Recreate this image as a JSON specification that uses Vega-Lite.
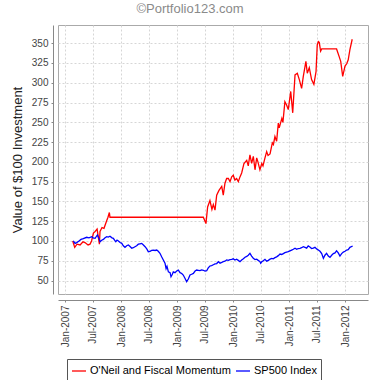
{
  "$schema": "https://vega.github.io/schema/vega-lite/v6.json",
  "width": 310,
  "height": 269,
  "autosize": {"type": "none"},
  "padding": {"left": 58, "top": 25, "right": 12, "bottom": 86},
  "background": "white",
  "title": {"text": "©Portfolio123.com", "anchor": "middle", "dx": -23, "offset": 9, "fontSize": 13, "font": "Liberation Sans", "fontWeight": "normal", "color": "#8a8a8a"},
  "config": {"view": {"stroke": "#aaaaaa", "strokeWidth": 1}, "font": "Liberation Sans"},
  "datasets": {
    "oneil": [
      {"date": "2007-02-20", "value": 100}, {"date": "2007-03-05", "value": 92}, {"date": "2007-03-20", "value": 96},
      {"date": "2007-04-09", "value": 95}, {"date": "2007-04-28", "value": 99}, {"date": "2007-05-11", "value": 98},
      {"date": "2007-05-31", "value": 95}, {"date": "2007-06-13", "value": 96}, {"date": "2007-06-23", "value": 100},
      {"date": "2007-07-05", "value": 110}, {"date": "2007-07-16", "value": 112}, {"date": "2007-07-29", "value": 115},
      {"date": "2007-08-13", "value": 96}, {"date": "2007-08-17", "value": 112}, {"date": "2007-08-30", "value": 117},
      {"date": "2007-09-12", "value": 116}, {"date": "2007-09-30", "value": 126}, {"date": "2007-10-08", "value": 130},
      {"date": "2007-10-17", "value": 136}, {"date": "2007-10-21", "value": 130}, {"date": "2009-06-21", "value": 130},
      {"date": "2009-07-08", "value": 122}, {"date": "2009-07-19", "value": 143}, {"date": "2009-08-03", "value": 151},
      {"date": "2009-08-16", "value": 140}, {"date": "2009-08-25", "value": 146}, {"date": "2009-09-05", "value": 139},
      {"date": "2009-09-16", "value": 158}, {"date": "2009-10-01", "value": 164}, {"date": "2009-10-19", "value": 169},
      {"date": "2009-10-29", "value": 158}, {"date": "2009-11-09", "value": 173}, {"date": "2009-11-20", "value": 179},
      {"date": "2009-12-01", "value": 179}, {"date": "2009-12-12", "value": 175}, {"date": "2009-12-23", "value": 181},
      {"date": "2010-01-02", "value": 183}, {"date": "2010-01-13", "value": 177}, {"date": "2010-01-24", "value": 179},
      {"date": "2010-02-04", "value": 175}, {"date": "2010-02-15", "value": 181}, {"date": "2010-02-26", "value": 186},
      {"date": "2010-03-13", "value": 198}, {"date": "2010-03-31", "value": 202}, {"date": "2010-04-10", "value": 195},
      {"date": "2010-04-21", "value": 209}, {"date": "2010-05-02", "value": 198}, {"date": "2010-05-13", "value": 207},
      {"date": "2010-05-24", "value": 190}, {"date": "2010-06-04", "value": 205}, {"date": "2010-06-12", "value": 200},
      {"date": "2010-06-25", "value": 190}, {"date": "2010-07-07", "value": 198}, {"date": "2010-07-15", "value": 195},
      {"date": "2010-07-28", "value": 205}, {"date": "2010-08-08", "value": 213}, {"date": "2010-08-17", "value": 208},
      {"date": "2010-08-30", "value": 210}, {"date": "2010-09-14", "value": 224}, {"date": "2010-09-21", "value": 222},
      {"date": "2010-10-01", "value": 232}, {"date": "2010-10-12", "value": 226}, {"date": "2010-10-23", "value": 249},
      {"date": "2010-10-29", "value": 243}, {"date": "2010-11-15", "value": 255}, {"date": "2010-11-22", "value": 250},
      {"date": "2010-12-05", "value": 276}, {"date": "2010-12-16", "value": 272}, {"date": "2010-12-27", "value": 266},
      {"date": "2011-01-12", "value": 289}, {"date": "2011-01-25", "value": 262}, {"date": "2011-02-09", "value": 310},
      {"date": "2011-02-24", "value": 312}, {"date": "2011-03-09", "value": 304}, {"date": "2011-03-24", "value": 293},
      {"date": "2011-04-04", "value": 308}, {"date": "2011-04-21", "value": 327}, {"date": "2011-04-30", "value": 312},
      {"date": "2011-05-13", "value": 319}, {"date": "2011-05-28", "value": 304}, {"date": "2011-06-12", "value": 298},
      {"date": "2011-06-26", "value": 314}, {"date": "2011-07-04", "value": 348}, {"date": "2011-07-11", "value": 352},
      {"date": "2011-07-17", "value": 351}, {"date": "2011-07-26", "value": 340}, {"date": "2011-08-02", "value": 342.7},
      {"date": "2011-11-07", "value": 342.7}, {"date": "2011-11-24", "value": 333}, {"date": "2011-12-04", "value": 327},
      {"date": "2011-12-17", "value": 308}, {"date": "2012-01-01", "value": 321}, {"date": "2012-01-12", "value": 324},
      {"date": "2012-01-22", "value": 329}, {"date": "2012-02-02", "value": 342}, {"date": "2012-02-17", "value": 355}
    ],
    "sp500": [
      {"date": "2007-02-24", "value": 100}, {"date": "2007-03-07", "value": 97}, {"date": "2007-03-18", "value": 98},
      {"date": "2007-04-02", "value": 100}, {"date": "2007-04-15", "value": 102}, {"date": "2007-04-30", "value": 103},
      {"date": "2007-05-22", "value": 104.7}, {"date": "2007-06-06", "value": 104}, {"date": "2007-06-24", "value": 105.4},
      {"date": "2007-07-03", "value": 104}, {"date": "2007-07-16", "value": 103.4}, {"date": "2007-07-31", "value": 107.6},
      {"date": "2007-08-11", "value": 103}, {"date": "2007-08-17", "value": 99}, {"date": "2007-08-28", "value": 101},
      {"date": "2007-09-08", "value": 102}, {"date": "2007-09-19", "value": 104}, {"date": "2007-09-30", "value": 105.4},
      {"date": "2007-10-10", "value": 105}, {"date": "2007-10-21", "value": 106}, {"date": "2007-11-03", "value": 104},
      {"date": "2007-11-12", "value": 103.4}, {"date": "2007-11-20", "value": 101}, {"date": "2007-11-28", "value": 99},
      {"date": "2007-12-06", "value": 101}, {"date": "2007-12-15", "value": 100}, {"date": "2007-12-26", "value": 98},
      {"date": "2008-01-06", "value": 97}, {"date": "2008-01-16", "value": 94}, {"date": "2008-01-27", "value": 92},
      {"date": "2008-02-07", "value": 94}, {"date": "2008-02-18", "value": 95}, {"date": "2008-02-29", "value": 93},
      {"date": "2008-03-11", "value": 90.8}, {"date": "2008-03-21", "value": 91.5}, {"date": "2008-04-01", "value": 92.8},
      {"date": "2008-04-12", "value": 94}, {"date": "2008-04-23", "value": 96}, {"date": "2008-05-04", "value": 96.5},
      {"date": "2008-05-15", "value": 97}, {"date": "2008-05-26", "value": 95}, {"date": "2008-06-06", "value": 92.8},
      {"date": "2008-06-17", "value": 90}, {"date": "2008-06-27", "value": 86.5}, {"date": "2008-07-08", "value": 87},
      {"date": "2008-07-19", "value": 88}, {"date": "2008-07-30", "value": 88.5}, {"date": "2008-08-10", "value": 88},
      {"date": "2008-08-21", "value": 88.6}, {"date": "2008-08-31", "value": 87}, {"date": "2008-09-11", "value": 84.4},
      {"date": "2008-09-22", "value": 80}, {"date": "2008-10-03", "value": 76}, {"date": "2008-10-14", "value": 72},
      {"date": "2008-10-21", "value": 65}, {"date": "2008-10-27", "value": 68}, {"date": "2008-11-05", "value": 61},
      {"date": "2008-11-16", "value": 60}, {"date": "2008-11-22", "value": 54.8}, {"date": "2008-12-01", "value": 58},
      {"date": "2008-12-07", "value": 61}, {"date": "2008-12-18", "value": 60}, {"date": "2008-12-29", "value": 62},
      {"date": "2009-01-09", "value": 63.3}, {"date": "2009-01-20", "value": 60}, {"date": "2009-01-31", "value": 59},
      {"date": "2009-02-10", "value": 57}, {"date": "2009-02-21", "value": 53}, {"date": "2009-03-04", "value": 48.5},
      {"date": "2009-03-15", "value": 52}, {"date": "2009-03-26", "value": 57}, {"date": "2009-04-06", "value": 58},
      {"date": "2009-04-17", "value": 59}, {"date": "2009-04-28", "value": 62}, {"date": "2009-05-09", "value": 63.3},
      {"date": "2009-05-19", "value": 63}, {"date": "2009-05-30", "value": 62.5}, {"date": "2009-06-10", "value": 63.5},
      {"date": "2009-06-21", "value": 63}, {"date": "2009-07-02", "value": 62}, {"date": "2009-07-13", "value": 62.4},
      {"date": "2009-07-23", "value": 66}, {"date": "2009-08-03", "value": 68.4}, {"date": "2009-08-14", "value": 69},
      {"date": "2009-08-25", "value": 70}, {"date": "2009-09-05", "value": 71}, {"date": "2009-09-16", "value": 71.5},
      {"date": "2009-09-27", "value": 73.8}, {"date": "2009-10-08", "value": 72}, {"date": "2009-10-19", "value": 73},
      {"date": "2009-10-29", "value": 74}, {"date": "2009-11-09", "value": 74.5}, {"date": "2009-11-20", "value": 76},
      {"date": "2009-12-01", "value": 75.5}, {"date": "2009-12-12", "value": 76.5}, {"date": "2009-12-23", "value": 76.8},
      {"date": "2010-01-02", "value": 77.5}, {"date": "2010-01-13", "value": 76}, {"date": "2010-01-24", "value": 77},
      {"date": "2010-02-04", "value": 75.5}, {"date": "2010-02-15", "value": 73.8}, {"date": "2010-02-26", "value": 76},
      {"date": "2010-03-09", "value": 77.5}, {"date": "2010-03-20", "value": 79.4}, {"date": "2010-03-31", "value": 80.5},
      {"date": "2010-04-10", "value": 82}, {"date": "2010-04-21", "value": 84.4}, {"date": "2010-05-02", "value": 81},
      {"date": "2010-05-13", "value": 78}, {"date": "2010-05-24", "value": 76.5}, {"date": "2010-06-04", "value": 77},
      {"date": "2010-06-14", "value": 75.5}, {"date": "2010-06-25", "value": 74}, {"date": "2010-06-30", "value": 71.8},
      {"date": "2010-07-08", "value": 74}, {"date": "2010-07-17", "value": 75}, {"date": "2010-07-28", "value": 76.8},
      {"date": "2010-08-08", "value": 74.5}, {"date": "2010-08-19", "value": 75.5}, {"date": "2010-08-30", "value": 77},
      {"date": "2010-09-10", "value": 78}, {"date": "2010-09-20", "value": 77.5}, {"date": "2010-10-01", "value": 79},
      {"date": "2010-10-12", "value": 80}, {"date": "2010-10-23", "value": 81.5}, {"date": "2010-11-03", "value": 83.5},
      {"date": "2010-11-14", "value": 83}, {"date": "2010-11-25", "value": 84}, {"date": "2010-12-05", "value": 85.2},
      {"date": "2010-12-16", "value": 86}, {"date": "2010-12-27", "value": 86.5}, {"date": "2011-01-07", "value": 87.5},
      {"date": "2011-01-18", "value": 88.5}, {"date": "2011-01-29", "value": 89.5}, {"date": "2011-02-09", "value": 90.8},
      {"date": "2011-02-20", "value": 89.5}, {"date": "2011-03-02", "value": 90.5}, {"date": "2011-03-13", "value": 90.8},
      {"date": "2011-03-24", "value": 91.5}, {"date": "2011-04-04", "value": 92.8}, {"date": "2011-04-15", "value": 92},
      {"date": "2011-04-26", "value": 91}, {"date": "2011-05-06", "value": 93.7}, {"date": "2011-05-17", "value": 92.5},
      {"date": "2011-05-28", "value": 90.5}, {"date": "2011-06-08", "value": 91}, {"date": "2011-06-19", "value": 92},
      {"date": "2011-06-30", "value": 90}, {"date": "2011-07-11", "value": 88.6}, {"date": "2011-07-22", "value": 87},
      {"date": "2011-08-02", "value": 84}, {"date": "2011-08-13", "value": 78}, {"date": "2011-08-23", "value": 82},
      {"date": "2011-09-03", "value": 84.4}, {"date": "2011-09-14", "value": 81}, {"date": "2011-09-25", "value": 79.4},
      {"date": "2011-10-06", "value": 82}, {"date": "2011-10-17", "value": 84}, {"date": "2011-10-28", "value": 85},
      {"date": "2011-11-07", "value": 87.7}, {"date": "2011-11-18", "value": 85}, {"date": "2011-11-29", "value": 81},
      {"date": "2011-12-10", "value": 84}, {"date": "2011-12-21", "value": 86}, {"date": "2012-01-01", "value": 87},
      {"date": "2012-01-12", "value": 88.6}, {"date": "2012-01-22", "value": 89}, {"date": "2012-02-02", "value": 92},
      {"date": "2012-02-20", "value": 93.7}
    ]
  },
  "encoding": {
    "x": {
      "field": "date", "type": "temporal",
      "scale": {"domain": [{"year": 2006, "month": 11, "date": 16}, {"year": 2012, "month": 5, "date": 30}]},
      "axis": {"title": null, "format": "%b-%Y", "labelAngle": -90, "tickCount": {"interval": "month", "step": 6},
        "offset": 6, "domainColor": "#888888", "tickColor": "#888888", "tickSize": 2, "labelFontSize": 10,
        "labelColor": "#444444", "gridDash": [2, 2], "gridColor": "#d6d6d6", "labelPadding": 3,
        "labelFlush": false, "labelOverlap": false}
    },
    "y": {
      "field": "value", "type": "quantitative",
      "scale": {"domain": [33, 373], "nice": false, "zero": false},
      "axis": {"title": "Value of $100 Investment", "titleFontSize": 13, "titleFontWeight": "normal", "titleColor": "#222222",
        "values": [50, 75, 100, 125, 150, 175, 200, 225, 250, 275, 300, 325, 350], "offset": 5, "tickSize": 2,
        "domainColor": "#888888", "tickColor": "#888888", "labelFontSize": 10, "labelColor": "#444444", "labelPadding": 3,
        "titlePadding": 7, "gridDash": [2, 2], "gridColor": "#d6d6d6"}
    }
  },
  "layer": [
    {
      "data": {"name": "oneil"},
      "mark": {"type": "line", "strokeWidth": 1.3},
      "encoding": {
        "color": {
          "datum": "O'Neil and Fiscal Momentum",
          "scale": {"domain": ["O'Neil and Fiscal Momentum", "SP500 Index"], "range": ["#ff0000", "#0000ff"]},
          "legend": {"orient": "none", "legendX": 9, "legendY": 334, "direction": "horizontal", "title": null,
            "symbolType": "stroke", "symbolSize": 196, "symbolStrokeWidth": 1.3, "labelFontSize": 11,
            "labelFont": "Liberation Sans", "labelColor": "#000000", "strokeColor": "#555555", "fillColor": "#ffffff",
            "padding": 4, "columnPadding": 2, "labelOffset": 3}
        }
      }
    },
    {
      "data": {"name": "sp500"},
      "mark": {"type": "line", "strokeWidth": 1.3},
      "encoding": {"color": {"datum": "SP500 Index"}}
    }
  ]
}
